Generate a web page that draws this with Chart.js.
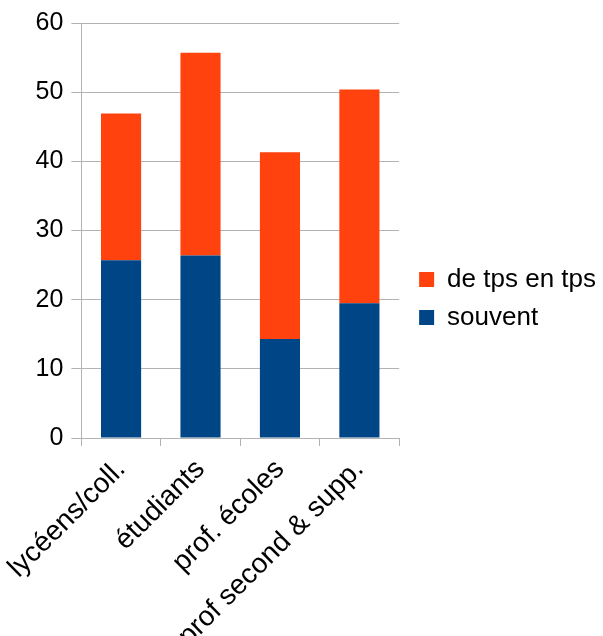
<!DOCTYPE html>
<html>
<head>
<meta charset="utf-8">
<script src="https://cdn.jsdelivr.net/npm/chart.js@4/dist/chart.umd.min.js"></script>
<style>
html,body{margin:0;padding:0;background:#fff;}
#wrap{width:603px;height:636px;}
</style>
</head>
<body>
<div id="wrap"><canvas id="c" width="603" height="636"></canvas></div>
<script>
const categories = ["lycéens/coll.", "étudiants", "prof. écoles", "prof second & supp."];
const souvent = [25.7, 26.4, 14.3, 19.5];
const deTpsEnTps = [21.2, 29.3, 27.0, 30.9];
const seriesNames = ["souvent", "de tps en tps"];
const yTicks = [0, 10, 20, 30, 40, 50, 60];

const FONT = "'Liberation Sans', Arial, sans-serif";

const legendShift = {
  id: 'legendShift',
  afterLayout(chart) {
    const l = chart.legend;
    if (l) { l.top -= 24; l.bottom -= 24; l.left += 8; l.right += 8; }
  }
};

new Chart(document.getElementById('c'), {
  type: 'bar',
  data: {
    labels: categories,
    datasets: [
      { label: seriesNames[0], data: souvent, backgroundColor: '#004586', categoryPercentage: 1, barPercentage: 0.505 },
      { label: seriesNames[1], data: deTpsEnTps, backgroundColor: '#ff420e', categoryPercentage: 1, barPercentage: 0.505 }
    ]
  },
  options: {
    responsive: false,
    animation: false,
    devicePixelRatio: 1,
    layout: { padding: { left: 24, top: 9, right: 5, bottom: 0 } },
    plugins: {
      legend: {
        position: 'right',
        reverse: true,
        maxWidth: 300,
        labels: {
          font: { family: FONT, size: 26 },
          color: '#000',
          boxWidth: 15,
          boxHeight: 15,
          padding: 12
        }
      },
      tooltip: { enabled: false }
    },
    scales: {
      x: {
        stacked: true,
        afterFit: (scale) => {
          scale.height = 198;
          scale.paddingLeft = Math.max(0, scale.paddingLeft - 4);
        },
        grid: {
          offset: true,
          drawOnChartArea: true,
          color: (ctx) => ctx.index === categories.length ? '#cccccc' : 'rgba(0,0,0,0)',
          tickColor: '#b3b3b3',
          tickLength: 8
        },
        border: { color: '#b3b3b3' },
        ticks: {
          font: { family: FONT, size: 28 },
          color: '#000',
          minRotation: 45,
          maxRotation: 45,
          padding: 7
        }
      },
      y: {
        stacked: true,
        min: 0,
        max: 60,
        afterBuildTicks: (axis) => { axis.ticks = yTicks.map(v => ({ value: v })); },
        grid: { color: '#b3b3b3', tickLength: 10 },
        border: { color: '#b3b3b3' },
        ticks: {
          font: { family: FONT, size: 25 },
          color: '#000',
          padding: 8
        }
      }
    }
  },
  plugins: [legendShift]
});
</script>
</body>
</html>
